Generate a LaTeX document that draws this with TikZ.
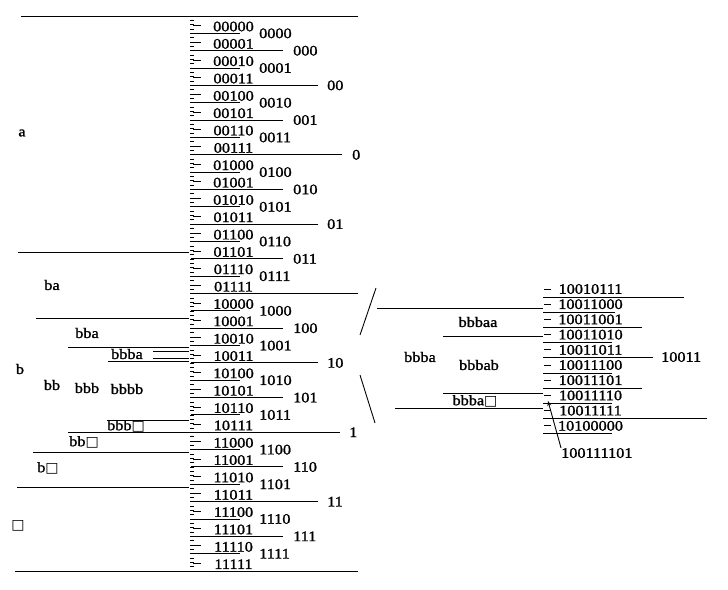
\documentclass[tikz,border=0pt]{standalone}
\usepackage{fontspec}
\setmainfont{Liberation Serif}[FakeStretch=1.12,FakeBold=1.4]
\newfontfamily\boxfont{DejaVu Sans}
\usetikzlibrary{arrows.meta}
% end-of-message symbol
\newcommand\bxsym{{\boxfont\fontsize{14}{14}\selectfont □}}

\begin{document}
\begin{tikzpicture}[x=1pt,y=-1pt,
  txt/.style={font=\fontsize{14.5}{15}\selectfont, inner sep=0pt},
  ln/.style={line width=0.9pt},
  tick/.style={line width=0.6pt}]
\useasboundingbox (0,0) rectangle (728,589);

% ---------- 5-bit ruler: fine ticks and row dashes ----------
\foreach \j [evaluate=\j as \yy using 16+4.336*\j] in {0,...,128}
  \draw[tick] (190,\yy) -- (194,\yy);

% row codes 00000 ... 11111
\foreach \i/\code [evaluate=\i as \yy using 16+17.344*\i+10.5] in
  {0/00000,1/00001,2/00010,3/00011,4/00100,5/00101,6/00110,7/00111,
   8/01000,9/01001,10/01010,11/01011,12/01100,13/01101,14/01110,15/01111,
   16/10000,17/10001,18/10010,19/10011,20/10100,21/10101,22/10110,23/10111,
   24/11000,25/11001,26/11010,27/11011,28/11100,29/11101,30/11110,31/11111}
{
  \draw[ln] (193,\yy-1) -- (201,\yy-1);
  \node[txt] (r\i) at (233.5,\yy) {\code};
}

% boundaries between rows, length by depth of the shared prefix
\foreach \k/\xe/\xl/\lab [evaluate=\k as \yy using 16+17.344*\k] in
  {1/240/259/0000, 2/283/293/000, 3/240/259/0001, 4/318/327/00,
   5/240/259/0010, 6/283/293/001, 7/240/259/0011, 8/342/352/0,
   9/240/259/0100, 10/283/293/010, 11/240/259/0101, 12/318/327/01,
   13/240/259/0110, 14/283/293/011, 15/240/259/0111,
   17/240/259/1000, 18/283/293/100, 19/240/259/1001, 20/318/327/10,
   21/240/259/1010, 22/283/293/101, 23/240/259/1011, 24/340/349/1,
   25/240/259/1100, 26/283/293/110, 27/240/259/1101, 28/318/327/11,
   29/240/259/1110, 30/283/293/111, 31/240/259/1111}
{
  \draw[ln] (191,\yy) -- (\xe,\yy);
  \node[txt,anchor=west] (p\k) at (\xl,\yy) {\lab};
}
\foreach \k [evaluate=\k as \yy using 16+17.344*\k] in {0,16,32}
  \draw[ln] (191,\yy) -- (358,\yy);

% ---------- source intervals on the left ----------
\foreach \yy/\xa/\xb in
  {16/21/191, 252/18/189, 318/36/189, 347/68/189, 351/153/189,
   358/153/189, 361/108/189, 420/107/189, 432/68/191, 452/33/189,
   487/17/189, 571/15/191}
  \draw[ln] (\xa,\yy) -- (\xb,\yy);

\node[txt] (sa)    at (22,133) {a};
\node[txt] (sba)   at (52,285) {ba};
\node[txt] (sbba)  at (87,333) {bba};
\node[txt] (sbbba) at (127,354) {bbba};
\node[txt] (sb)    at (20,369) {b};
\node[txt] (sbb)   at (52,385) {bb};
\node[txt] (sbbb)  at (87,388) {bbb};
\node[txt] (sbbbb) at (127,389) {bbbb};
\node[txt] (sbbbe) at (126,426) {bbb\bxsym};
\node[txt] (sbbe)  at (84,442) {bb\bxsym};
\node[txt] (sbe)   at (48,468) {b\bxsym};
\node[txt] (se)    at (18,526) {\bxsym};

% ---------- magnified view of bbba ----------
\draw[ln] (376,288) -- (360,335);
\draw[ln] (360,375) -- (375,423);

\foreach \yy/\xa in {308/377, 336/443, 393/443, 408/395}
  \draw[ln] (\xa,\yy) -- (543,\yy);

\node[txt] (zbbbaa) at (478,322) {bbbaa};
\node[txt] (zbbba)  at (420,357) {bbba};
\node[txt] (zbbbab) at (479,365) {bbbab};
\node[txt] (zbbbae) at (475,401) {bbba\bxsym};

% 8-bit rows
\foreach \i/\code/\xe [evaluate=\i as \yy using 289+15.2*\i] in
  {0/10010111/684, 1/10011000/615, 2/10011001/642, 3/10011010/612,
   4/10011011/653, 5/10011100/612, 6/10011101/642, 7/10011110/612,
   8/10011111/707, 9/10100000/612}
{
  \draw[ln] (544,\yy) -- (551,\yy);
  \node[txt] (q\i) at (590.5,\yy) {\code};
  \draw[ln] (543,\yy+8) -- (\xe,\yy+8);
}
\node[txt,anchor=west] (q10011) at (661,357) {10011};

% the transmitted code word
\node[txt,anchor=west] (cw) at (561,453) {100111101};
\coordinate (cwtip) at (548,401);
\draw[ln,-{Stealth[length=5pt,width=4pt]}] (cw.north west) -- (cwtip);
\end{tikzpicture}
\end{document}
